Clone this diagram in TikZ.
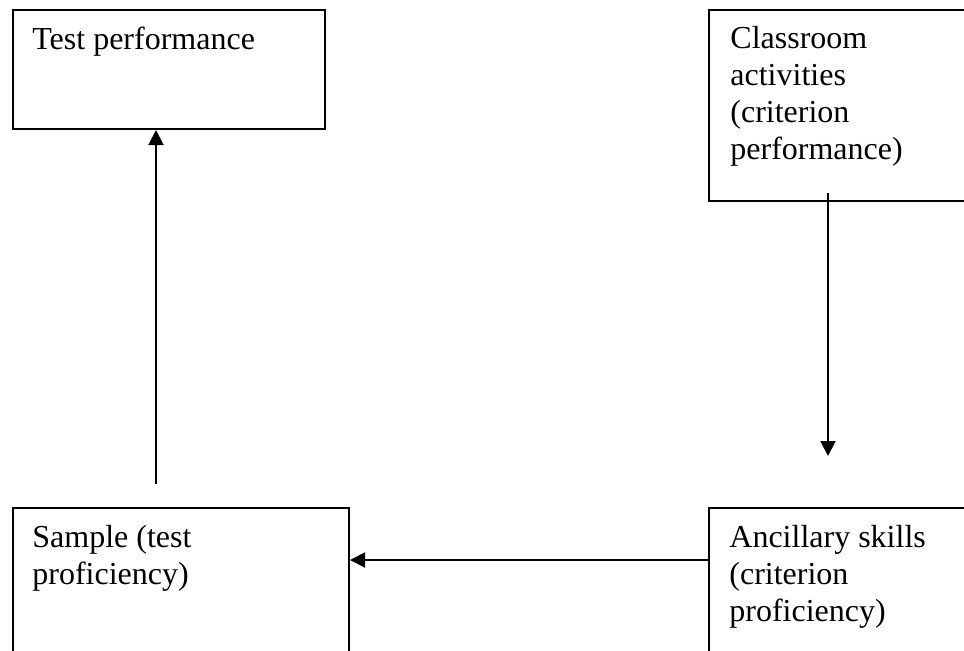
\documentclass[tikz,border=0pt]{standalone}
\usepackage{fontspec}
\setmainfont{Liberation Serif}
\usetikzlibrary{arrows.meta}
\begin{document}
\begin{tikzpicture}[x=0.5pt,y=-0.5pt,
  box/.style={draw=black,line width=1pt,rectangle,inner sep=0pt,anchor=north west},
  txt/.style={inner sep=0pt,anchor=north west,align=left,font=\fontsize{16}{18.4}\selectfont},
  arr/.style={draw=black,line width=1pt,-{Triangle[length=7.5pt,width=7.5pt]}}]
\useasboundingbox (0,0) rectangle (964,650);
\clip (0,0) rectangle (964,650);
\node[box,minimum width=156pt,minimum height=59.5pt] (test) at (12,9) {};
\node[box,minimum width=150pt,minimum height=95.5pt] (class) at (708,9) {};
\node[box,minimum width=168pt,minimum height=90pt] (sample) at (12,507) {};
\node[box,minimum width=150pt,minimum height=90pt] (anc) at (708,507) {};
\node[txt] (testtxt) at (32,27) {Test performance};
\node[txt] (classtxt) at (730,26) {Classroom\\activities\\(criterion\\performance)};
\node[txt] (sampletxt) at (32,525) {Sample (test\\proficiency)};
\node[txt] (anctxt) at (729,525) {Ancillary skills\\(criterion\\proficiency)};
\coordinate (upstart) at (156,484);
\coordinate (downstart) at (828,193);
\coordinate (downend) at (828,456);
\coordinate (hy) at (500,560);
\draw[arr] (upstart) -- (upstart |- test.south);
\draw[arr] (downstart) -- (downend);
\draw[arr] (hy -| anc.west) -- (hy -| sample.east);
\end{tikzpicture}
\end{document}
